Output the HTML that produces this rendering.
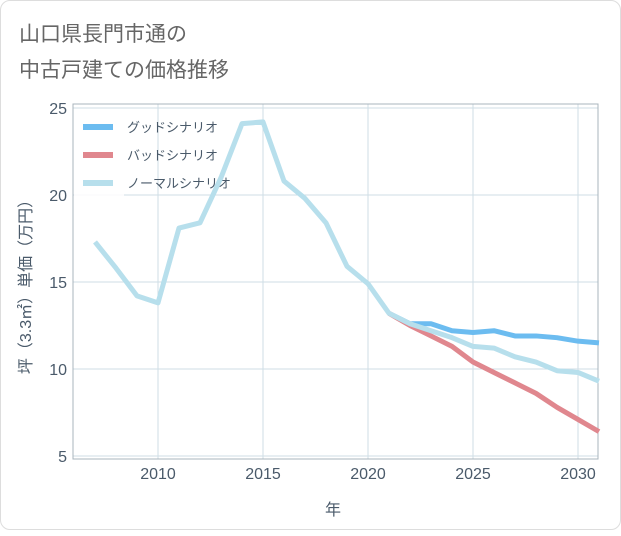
<!DOCTYPE html>
<html><head><meta charset="utf-8"><style>
body{margin:0;background:#fff;font-family:"Liberation Sans","Noto Sans CJK JP",sans-serif;}
#card{position:absolute;left:0;top:0;width:619px;height:528px;border:1px solid #ddd;border-radius:10px;background:#fff;}
</style></head><body>
<div id="card">
<svg id="chart" width="621" height="530">
<text x="18" y="40" font-size="21" fill="#666">山口県長門市通の</text>
<text x="18" y="76" font-size="21" fill="#666">中古戸建ての価格推移</text>
<g id="grid"></g><g id="legend"></g><g id="series"></g>
<text x="332" y="514" font-size="16" fill="#4a5a6a" text-anchor="middle">年</text>
<text transform="translate(30,282) rotate(-90)" font-size="16" fill="#4a5a6a" text-anchor="middle">坪（3.3㎡）単価（万円）</text>
</svg></div>
<script>
const years=[2007,2008,2009,2010,2011,2012,2013,2014,2015,2016,2017,2018,2019,2020,2021,2022,2023,2024,2025,2026,2027,2028,2029,2030,2031];
const normal=[17.3,15.8,14.2,13.8,18.1,18.4,21.0,24.1,24.2,20.8,19.8,18.4,15.9,14.9,13.2,12.6,12.2,11.8,11.3,11.2,10.7,10.4,9.9,9.8,9.3];
const fyears=[2021,2022,2023,2024,2025,2026,2027,2028,2029,2030,2031];
const good=[13.2,12.6,12.6,12.2,12.1,12.2,11.9,11.9,11.8,11.6,11.5];
const bad=[13.2,12.5,11.9,11.3,10.4,9.8,9.2,8.6,7.8,7.1,6.4];
const xTicks=[2010,2015,2020,2025,2030];
const yTicks=[5,10,15,20,25];
const names=["グッドシナリオ","バッドシナリオ","ノーマルシナリオ"];
const colors=["#6cbcf0","#e0878e","#b7dfec"];
const ns="http://www.w3.org/2000/svg";
const X=y=>157+(y-2010)*21, Y=v=>368-(v-10)*17.4;
const L=72,R=597,T=103,B=458;
function mk(p,t,a){const e=document.createElementNS(ns,t);for(const k in a)e.setAttribute(k,a[k]);p.appendChild(e);return e;}
const g=document.getElementById('grid');
yTicks.forEach(v=>{const l=mk(g,'line',{x1:L,x2:R,y1:Y(v),y2:Y(v),stroke:'#cfdde5'});

const t=mk(g,'text',{x:66,y:Y(v)+6,'text-anchor':'end','font-size':16,fill:'#4a5a6a'});t.textContent=v;
});
xTicks.forEach(v=>{const l=mk(g,'line',{x1:X(v),x2:X(v),y1:T,y2:B,stroke:'#cfdde5'});

const t=mk(g,'text',{x:X(v),y:478,'text-anchor':'middle','font-size':16,fill:'#4a5a6a'});t.textContent=v;
});
const fr=mk(g,'rect',{x:L,y:T,width:R-L,height:B-T,fill:'none',stroke:'#a8b4bc'});

const lg=document.getElementById('legend');
const bg=mk(lg,'rect',{x:73,y:108,width:50,height:92,fill:'#fff','fill-opacity':0.85});

names.forEach((n,i)=>{const y=126+i*28;
const l=mk(lg,'line',{x1:82,x2:112,y1:y,y2:y,stroke:colors[i],'stroke-width':6});

const t=mk(lg,'text',{x:126,y:y+5,'font-size':13,fill:'#4a5a6a'});t.textContent=n;
});
const s=document.getElementById('series');
function line(xs,vs,c,n){const p=mk(s,'polyline',{points:xs.map((x,i)=>X(x)+','+Y(vs[i])).join(' '),fill:'none',stroke:c,'stroke-width':5,'stroke-linejoin':'round'});
}
line(fyears,good,colors[0],'good-scenario-line');
line(fyears,bad,colors[1],'bad-scenario-line');
line(years,normal,colors[2],'normal-scenario-line');
</script></body></html>
